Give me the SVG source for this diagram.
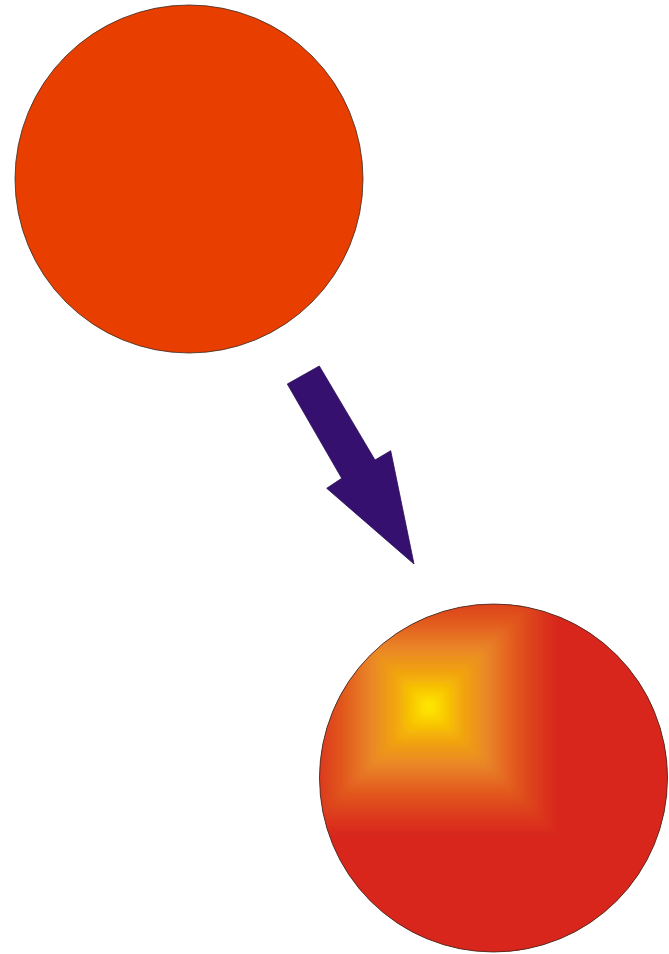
<svg xmlns="http://www.w3.org/2000/svg" width="669" height="954" viewBox="0 0 669 954">
  <style>
    .outline { stroke: #3a2a20; stroke-width: 0.8; }
  </style>
  <defs>
    <linearGradient id="gR" gradientUnits="userSpaceOnUse" x1="429" y1="0" x2="559" y2="0">
      <stop offset="0" stop-color="#FFF000"/>
      <stop offset="0.1" stop-color="#FAD000"/>
      <stop offset="0.25" stop-color="#F2A60C"/>
      <stop offset="0.45" stop-color="#E98628"/>
      <stop offset="0.65" stop-color="#E25A1E"/>
      <stop offset="0.85" stop-color="#DB381C"/>
      <stop offset="1" stop-color="#D8261C"/>
    </linearGradient>
    <linearGradient id="gL" href="#gR" gradientUnits="userSpaceOnUse" x1="429" y1="0" x2="299" y2="0"/>
    <linearGradient id="gT" href="#gR" gradientUnits="userSpaceOnUse" x1="0" y1="707" x2="0" y2="577"/>
    <linearGradient id="gB" href="#gR" gradientUnits="userSpaceOnUse" x1="0" y1="707" x2="0" y2="837"/>
    <clipPath id="ballClip">
      <circle cx="493.5" cy="778" r="174"/>
    </clipPath>
    <filter id="soft" x="-20%" y="-20%" width="140%" height="140%">
      <feGaussianBlur stdDeviation="4"/>
    </filter>
  </defs>

  <g id="flat-circle">
    <circle cx="189" cy="179" r="174" fill="#E83E00" class="outline"/>
  </g>

  <g id="connectors">
    <polygon id="arrow" points="287.3,384 319.3,366 375,460 390.7,450.7 414,564 326.7,488.3 341.7,478.3" fill="#35106E" stroke="#2a0c55" stroke-width="0.8"/>
  </g>

  <g id="shaded-sphere">
    <circle cx="493.5" cy="778" r="174" fill="#D8261C"/>
    <g clip-path="url(#ballClip)">
      <g filter="url(#soft)">
        <rect x="280" y="560" width="400" height="400" fill="#D8261C"/>
        <polygon points="429,707 299,577 299,837" fill="url(#gL)"/>
        <polygon points="429,707 559,577 559,837" fill="url(#gR)"/>
        <polygon points="429,707 299,577 559,577" fill="url(#gT)" stroke="url(#gT)" stroke-width="1.5"/>
        <polygon points="429,707 299,837 559,837" fill="url(#gB)" stroke="url(#gB)" stroke-width="1.5"/>
      </g>
    </g>
    <circle cx="493.5" cy="778" r="174" fill="none" class="outline"/>
  </g>
</svg>
